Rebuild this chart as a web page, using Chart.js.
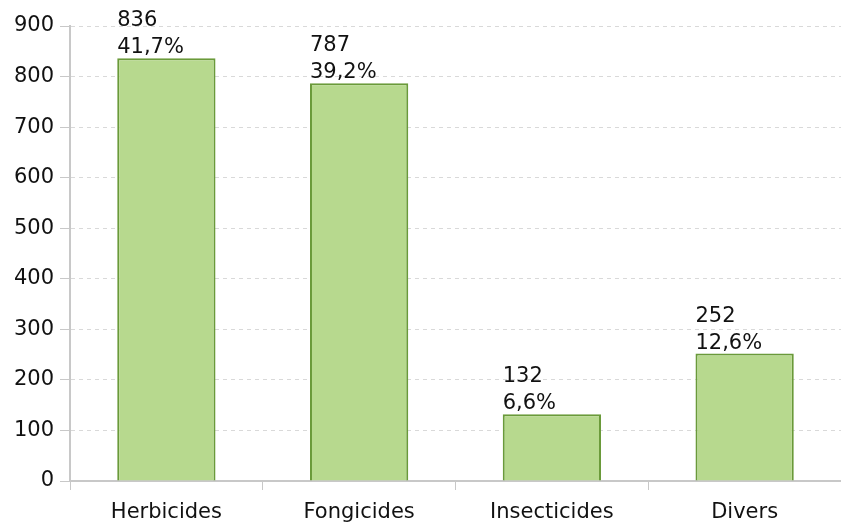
<!DOCTYPE html>
<html>
<head>
<meta charset="utf-8">
<script src="https://cdn.jsdelivr.net/npm/chart.js@4/dist/chart.umd.min.js"></script>
<style>
  html, body { margin: 0; padding: 0; background: #fff; }
  #wrap { width: 841px; height: 524px; position: relative; }
</style>
</head>
<body>
<div id="wrap"><canvas id="barChart"></canvas></div>
<script>
// Data
const categories = ['Herbicides', 'Fongicides', 'Insecticides', 'Divers'];
const values = [836, 787, 132, 252];
const shares = ['41,7%', '39,2%', '6,6%', '12,6%'];
const yTicks = [0, 100, 200, 300, 400, 500, 600, 700, 800, 900];

const FONT = '"DejaVu Sans", Verdana, sans-serif';
const FONT_SIZE = 21;

// Draws the value + share above each bar, left aligned on the bar edge
const barLabels = {
    id: 'barLabels',
    afterDatasetsDraw(chart) {
        const ctx = chart.ctx;
        const meta = chart.getDatasetMeta(0);
        ctx.save();
        ctx.font = FONT_SIZE + 'px ' + FONT;
        ctx.fillStyle = '#111';
        ctx.textAlign = 'left';
        ctx.textBaseline = 'alphabetic';
        meta.data.forEach((bar, i) => {
            const left = bar.x - bar.width / 2;
            ctx.fillText(shares[i], left, bar.y - 5);
            ctx.fillText(String(values[i]), left, bar.y - 32);
        });
        ctx.restore();
    }
};

const ctx = document.getElementById('barChart').getContext('2d');
new Chart(ctx, {
    type: 'bar',
    data: {
        labels: categories,
        datasets: [{
            data: values,
            backgroundColor: '#b7d98e',
            borderColor: '#6a9a3a',
            borderWidth: 2,
            categoryPercentage: 1,
            barPercentage: 0.51
        }]
    },
    options: {
        responsive: true,
        maintainAspectRatio: false,
        animation: false,
        layout: {
            padding: { top: 26, right: 0, left: 0, bottom: 0 }
        },
        plugins: {
            legend: { display: false },
            tooltip: { enabled: false }
        },
        scales: {
            x: {
                grid: {
                    display: true,
                    offset: true,
                    drawOnChartArea: false,
                    drawTicks: true,
                    tickLength: 9,
                    tickColor: '#c8c8c8'
                },
                border: { color: '#c8c8c8', width: 2 },
                ticks: {
                    color: '#111',
                    font: { family: FONT, size: FONT_SIZE },
                    padding: 10
                },
                afterFit(scale) { scale.height = 43; }
            },
            y: {
                min: 0,
                max: 900,
                afterBuildTicks(scale) {
                    scale.ticks = yTicks.map(v => ({ value: v }));
                },
                grid: {
                    color: '#d9d9d9',
                    tickLength: 10,
                    tickColor: '#c8c8c8',
                    tickBorderDash: []
                },
                border: { color: '#c8c8c8', width: 2, dash: [4, 4] },
                ticks: {
                    color: '#111',
                    font: { family: FONT, size: FONT_SIZE },
                    padding: 6
                },
                afterFit(scale) { scale.width = 70; }
            }
        }
    },
    plugins: [barLabels]
});
</script>
</body>
</html>
